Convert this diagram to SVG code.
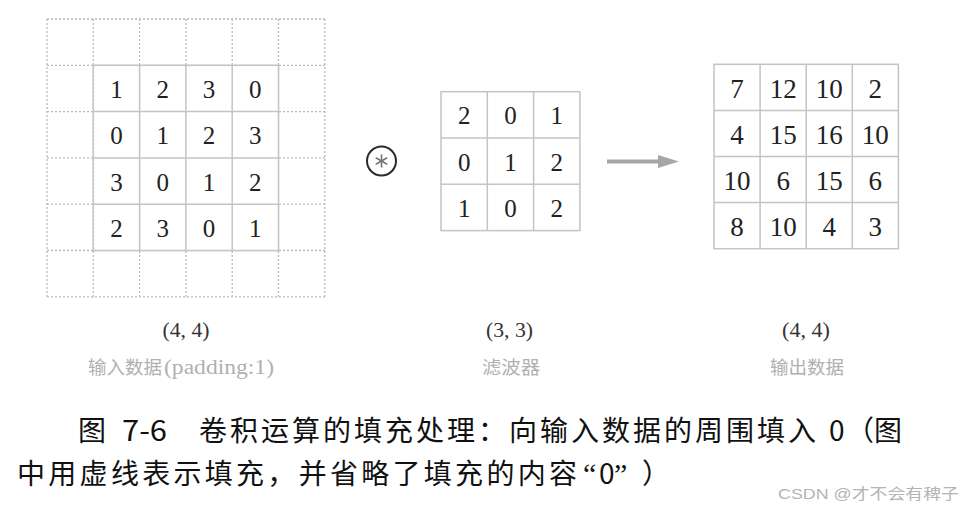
<svg xmlns="http://www.w3.org/2000/svg" width="964" height="511" viewBox="0 0 964 511">
<style>
.dash{stroke:#b8b8b8;stroke-width:1.3;stroke-dasharray:2 2;fill:none}
.cell{stroke:#c4c4c4;stroke-width:1.5;fill:none}
.bg{fill:#ffffff;stroke:#c4c4c4;stroke-width:1.5}
.num{font-family:"Liberation Serif","DejaVu Serif",serif;font-size:25px;fill:#222;text-anchor:middle}
.onum{font-family:"Liberation Serif","DejaVu Serif",serif;font-size:27px;fill:#222;text-anchor:middle}
.shape{font-family:"Liberation Serif","DejaVu Serif",serif;font-size:20px;fill:#333;text-anchor:middle}
.name{font-family:"Noto Sans CJK SC","Liberation Serif",sans-serif;font-size:18.5px;fill:#b0b0b0}
.ser{font-family:"Liberation Serif",serif}
.cap{font-family:"Noto Sans CJK SC",sans-serif;font-size:28px;fill:#111}
.capq{font-family:"Liberation Serif",serif;font-size:30px}
.wm{font-family:"Liberation Sans","Noto Sans CJK SC",sans-serif;font-size:15px;fill:#b4b4b4}
</style>
<rect width="964" height="511" fill="#ffffff"/>

<g id="input">
  <g class="dash">
    <line x1="47" y1="19" x2="47" y2="296.8"/>
    <line x1="93.3" y1="19" x2="93.3" y2="296.8"/>
    <line x1="139.6" y1="19" x2="139.6" y2="296.8"/>
    <line x1="185.9" y1="19" x2="185.9" y2="296.8"/>
    <line x1="232.2" y1="19" x2="232.2" y2="296.8"/>
    <line x1="278.5" y1="19" x2="278.5" y2="296.8"/>
    <line x1="324.8" y1="19" x2="324.8" y2="296.8"/>
    <line x1="47" y1="19" x2="324.8" y2="19"/>
    <line x1="47" y1="65.3" x2="324.8" y2="65.3"/>
    <line x1="47" y1="111.6" x2="324.8" y2="111.6"/>
    <line x1="47" y1="157.9" x2="324.8" y2="157.9"/>
    <line x1="47" y1="204.2" x2="324.8" y2="204.2"/>
    <line x1="47" y1="250.5" x2="324.8" y2="250.5"/>
    <line x1="47" y1="296.8" x2="324.8" y2="296.8"/>
  </g>
  <rect class="bg" x="93.3" y="65.3" width="185.2" height="185.2"/>
  <g class="cell">
    <line x1="139.6" y1="65.3" x2="139.6" y2="250.5"/>
    <line x1="185.9" y1="65.3" x2="185.9" y2="250.5"/>
    <line x1="232.2" y1="65.3" x2="232.2" y2="250.5"/>
    <line x1="93.3" y1="111.6" x2="278.5" y2="111.6"/>
    <line x1="93.3" y1="157.9" x2="278.5" y2="157.9"/>
    <line x1="93.3" y1="204.2" x2="278.5" y2="204.2"/>
  </g>
  <g class="num">
    <text x="116.45" y="98">1</text><text x="162.75" y="98">2</text><text x="209.05" y="98">3</text><text x="255.35" y="98">0</text>
    <text x="116.45" y="144.3">0</text><text x="162.75" y="144.3">1</text><text x="209.05" y="144.3">2</text><text x="255.35" y="144.3">3</text>
    <text x="116.45" y="190.6">3</text><text x="162.75" y="190.6">0</text><text x="209.05" y="190.6">1</text><text x="255.35" y="190.6">2</text>
    <text x="116.45" y="236.9">2</text><text x="162.75" y="236.9">3</text><text x="209.05" y="236.9">0</text><text x="255.35" y="236.9">1</text>
  </g>
  <text class="shape" x="186" y="337" textLength="47" lengthAdjust="spacingAndGlyphs">(4, 4)</text>
  <text class="name" x="88" y="374">输入数据<tspan class="ser" font-size="20" x="164" textLength="110" lengthAdjust="spacingAndGlyphs">(padding:1)</tspan></text>
</g>

<g id="conv-op">
  <circle cx="381.5" cy="161" r="14.5" fill="none" stroke="#2a2a2a" stroke-width="2"/>
  <g stroke="#777" stroke-width="1.6" stroke-linecap="round">
    <line x1="381.5" y1="155" x2="381.5" y2="167"/>
    <line x1="376.3" y1="158" x2="386.7" y2="164"/>
    <line x1="376.3" y1="164" x2="386.7" y2="158"/>
  </g>
</g>

<g id="filter">
  <rect class="bg" x="441" y="91.7" width="138.9" height="138.9"/>
  <g class="cell">
    <line x1="487.3" y1="91.7" x2="487.3" y2="230.6"/>
    <line x1="533.6" y1="91.7" x2="533.6" y2="230.6"/>
    <line x1="441" y1="138" x2="579.9" y2="138"/>
    <line x1="441" y1="184.3" x2="579.9" y2="184.3"/>
  </g>
  <g class="num">
    <text x="464.15" y="124.4">2</text><text x="510.45" y="124.4">0</text><text x="556.75" y="124.4">1</text>
    <text x="464.15" y="170.7">0</text><text x="510.45" y="170.7">1</text><text x="556.75" y="170.7">2</text>
    <text x="464.15" y="217">1</text><text x="510.45" y="217">0</text><text x="556.75" y="217">2</text>
  </g>
  <text class="shape" x="509.5" y="337" textLength="47" lengthAdjust="spacingAndGlyphs">(3, 3)</text>
  <text class="name" x="482" y="374" textLength="58" lengthAdjust="spacingAndGlyphs">滤波器</text>
</g>

<g id="output">
  <rect class="bg" x="714" y="64.3" width="184.4" height="184.4"/>
  <g class="cell">
    <line x1="760.1" y1="64.3" x2="760.1" y2="248.7"/>
    <line x1="806.2" y1="64.3" x2="806.2" y2="248.7"/>
    <line x1="852.3" y1="64.3" x2="852.3" y2="248.7"/>
    <line x1="714" y1="110.4" x2="898.4" y2="110.4"/>
    <line x1="714" y1="156.5" x2="898.4" y2="156.5"/>
    <line x1="714" y1="202.6" x2="898.4" y2="202.6"/>
  </g>
  <g class="onum">
    <text x="737.05" y="97.5">7</text><text x="783.15" y="97.5">12</text><text x="829.25" y="97.5">10</text><text x="875.35" y="97.5">2</text>
    <text x="737.05" y="143.6">4</text><text x="783.15" y="143.6">15</text><text x="829.25" y="143.6">16</text><text x="875.35" y="143.6">10</text>
    <text x="737.05" y="189.7">10</text><text x="783.15" y="189.7">6</text><text x="829.25" y="189.7">15</text><text x="875.35" y="189.7">6</text>
    <text x="737.05" y="235.8">8</text><text x="783.15" y="235.8">10</text><text x="829.25" y="235.8">4</text><text x="875.35" y="235.8">3</text>
  </g>
  <text class="shape" x="806" y="337" textLength="48" lengthAdjust="spacingAndGlyphs">(4, 4)</text>
  <text class="name" x="770" y="374" textLength="74" lengthAdjust="spacingAndGlyphs">输出数据</text>
</g>

<g id="connectors">
  <line x1="607" y1="161.5" x2="662" y2="161.5" stroke="#a6a6a6" stroke-width="4"/>
  <polygon points="658,155 679,161.5 658,168" fill="#a6a6a6"/>
</g>

<g id="caption">
  <text class="cap" y="441"><tspan x="78">图</tspan><tspan x="122" textLength="45" lengthAdjust="spacingAndGlyphs">7-6</tspan><tspan x="199" textLength="617" lengthAdjust="spacing">卷积运算的填充处理：向输入数据的周围填入</tspan><tspan x="829">0</tspan><tspan x="846">（图</tspan></text>
  <text class="cap" y="484"><tspan x="17" textLength="560" lengthAdjust="spacing">中用虚线表示填充，并省略了填充的内容</tspan><tspan class="capq" x="583">“</tspan><tspan x="599">0</tspan><tspan class="capq" x="614">”</tspan><tspan x="642">）</tspan></text>
</g>

<text class="wm" x="778" y="499" textLength="181" lengthAdjust="spacingAndGlyphs">CSDN @才不会有稗子</text>
</svg>
